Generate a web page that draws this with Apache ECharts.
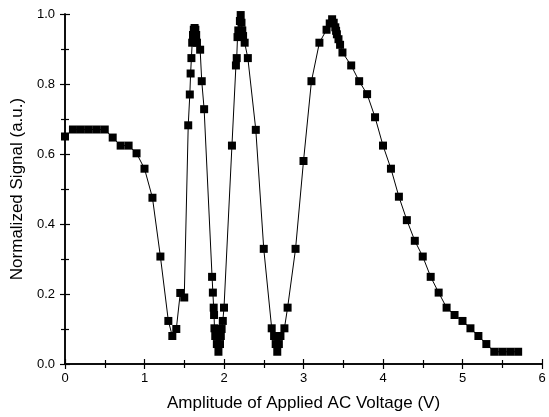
<!DOCTYPE html>
<html>
<head>
<meta charset="utf-8">
<script src="https://cdn.jsdelivr.net/npm/echarts@6/dist/echarts.min.js"></script>
<style>
  html, body { margin: 0; padding: 0; background: #fff; }
  #chart { width: 549px; height: 417px; }
</style>
</head>
<body>
<div id="chart"></div>
<script>
// values
const voltage = [
  0, 0.1, 0.2, 0.3, 0.4, 0.5, 0.6, 0.7, 0.8, 0.9, 1.0, 1.1, 1.2, 1.3, 1.35, 1.4, 1.45, 1.5,
  1.55, 1.57, 1.58, 1.59, 1.6, 1.61, 1.62, 1.63, 1.64, 1.65, 1.66, 1.7, 1.72, 1.75,
  1.85, 1.86, 1.87, 1.875, 1.88, 1.89, 1.91, 1.93, 1.95, 1.96, 1.97, 1.985, 2.0,
  2.1, 2.15, 2.16, 2.17, 2.18, 2.2, 2.21, 2.22, 2.23, 2.24, 2.26, 2.3, 2.4, 2.5,
  2.6, 2.63, 2.65, 2.67, 2.69, 2.71, 2.76, 2.8, 2.9, 3.0, 3.1, 3.2,
  3.29, 3.33, 3.36, 3.38, 3.4, 3.41, 3.42, 3.44, 3.46, 3.49,
  3.6, 3.7, 3.8, 3.9, 4.0, 4.1, 4.2, 4.3, 4.4, 4.5, 4.6, 4.7, 4.8, 4.9,
  5.0, 5.1, 5.2, 5.3, 5.4, 5.5, 5.6, 5.7
]
const signal = [
  0.65, 0.67, 0.67, 0.67, 0.67, 0.67, 0.647, 0.624, 0.624, 0.602, 0.558, 0.475, 0.307, 0.123, 0.08, 0.10, 0.203, 0.19,
  0.682, 0.77, 0.83, 0.874, 0.918, 0.94, 0.955, 0.96, 0.955, 0.94, 0.918, 0.898, 0.808, 0.728,
  0.249, 0.204, 0.161, 0.14, 0.102, 0.08, 0.057, 0.035, 0.057, 0.08, 0.10, 0.123, 0.161,
  0.624, 0.853, 0.874, 0.934, 0.953, 0.98, 0.997, 0.975, 0.953, 0.937, 0.918, 0.874, 0.669, 0.329,
  0.102, 0.08, 0.057, 0.035, 0.057, 0.08, 0.102, 0.161, 0.329, 0.58, 0.808, 0.918,
  0.955, 0.973, 0.985, 0.975, 0.962, 0.952, 0.942, 0.928, 0.912, 0.89,
  0.853, 0.808, 0.771, 0.705, 0.624, 0.558, 0.478, 0.411, 0.352, 0.307, 0.249, 0.204, 0.161, 0.14,
  0.123, 0.102, 0.08, 0.057, 0.035, 0.035, 0.035, 0.035
]
const xTicks = [0, 1, 2, 3, 4, 5, 6]
const yTicks = [0.0, 0.2, 0.4, 0.6, 0.8, 1.0]

const points = voltage.map((v, i) => [v, signal[i]])

const font = 'Liberation Sans, Arial, sans-serif'
const axisLine = { show: true, lineStyle: { color: '#000', width: 1.5 } }
const tick = { show: true, inside: true, length: 5, lineStyle: { color: '#000', width: 1.2 } }
const minor = { show: true, splitNumber: 2, length: 4, lineStyle: { color: '#000', width: 1.2 } }

const xBase = {
  type: 'value',
  min: xTicks[0],
  max: xTicks[xTicks.length - 1],
  interval: 1,
  axisLine: axisLine,
  axisTick: tick,
  minorTick: minor,
  splitLine: { show: false },
}
const yBase = {
  type: 'value',
  min: yTicks[0],
  max: yTicks[yTicks.length - 1],
  interval: 0.2,
  axisLine: axisLine,
  axisTick: tick,
  minorTick: minor,
  splitLine: { show: false },
}

const chart = echarts.init(document.getElementById('chart'))
chart.setOption({
  animation: false,
  backgroundColor: '#fff',
  grid: { left: 65, right: 7, top: 14, bottom: 50 },
  xAxis: [
    Object.assign({}, xBase, {
      position: 'bottom',
      name: 'Amplitude of Applied AC Voltage (V)',
      nameLocation: 'middle',
      nameGap: 31,
      nameTextStyle: { fontFamily: font, fontSize: 17, color: '#000' },
      axisLabel: { fontFamily: font, fontSize: 13, color: '#000', margin: 8 },
    }),
    Object.assign({}, xBase, { position: 'top', axisLabel: { show: false } }),
  ],
  yAxis: [
    Object.assign({}, yBase, {
      position: 'left',
      name: 'Normalized Signal (a.u.)',
      nameLocation: 'middle',
      nameGap: 36,
      nameTextStyle: { fontFamily: font, fontSize: 17, color: '#000' },
      axisLabel: {
        fontFamily: font, fontSize: 13, color: '#000', margin: 10,
        formatter: (v) => v.toFixed(1),
      },
    }),
    Object.assign({}, yBase, { position: 'right', axisLabel: { show: false } }),
  ],
  series: [
    {
      type: 'line',
      data: points,
      symbol: 'rect',
      symbolSize: 8,
      itemStyle: { color: '#000' },
      lineStyle: { color: '#000', width: 1 },
      clip: true,
    },
  ],
})
</script>
</body>
</html>
